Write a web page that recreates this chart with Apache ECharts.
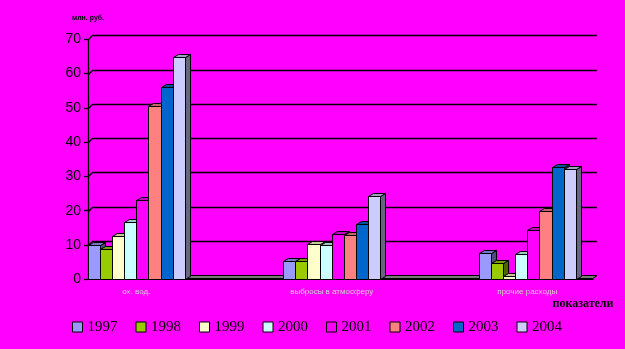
<!DOCTYPE html>
<html>
<head>
<meta charset="utf-8">
<script src="https://cdn.jsdelivr.net/npm/echarts@6/dist/echarts.min.js"></script>
<style>
html,body{margin:0;padding:0;background:#FF00FF;}
#c{width:625px;height:349px;}
</style>
</head>
<body>
<div id="c"></div>
<script>
const categories = ['ох. вод.', 'выбросы в атмосферу', 'прочие расходы'];
const years = ['1997', '1998', '1999', '2000', '2001', '2002', '2003', '2004'];
const v1997 = [10.0, 5.3, 7.8];
const v1998 = [8.7, 5.3, 4.9];
const v1999 = [12.7, 10.2, 0.9];
const v2000 = [16.8, 9.9, 7.3];
const v2001 = [23.0, 13.1, 14.3];
const v2002 = [50.6, 12.8, 19.8];
const v2003 = [56.0, 16.0, 32.7];
const v2004 = [64.7, 24.3, 32.1];
const yTicks = [0, 10, 20, 30, 40, 50, 60, 70];
const yAxisName = 'млн. руб.';
const xAxisName = 'показатели';

const seriesValues = [v1997, v1998, v1999, v2000, v2001, v2002, v2003, v2004];
const colors = ['#9999FF', '#99CC00', '#FFFFCC', '#CCFFFF', '#FF00FF', '#FF8080', '#0066CC', '#CCCCFF'];

function shade(hex, f) {
  const n = parseInt(hex.slice(1), 16);
  const r = Math.round(((n >> 16) & 255) * f);
  const g = Math.round(((n >> 8) & 255) * f);
  const b = Math.round((n & 255) * f);
  return 'rgb(' + r + ',' + g + ',' + b + ')';
}

const BDX = 5, BDY = -3;   // bar depth
const WDX = 4, WDY = -4;   // wall depth

function makeBar(k) {
  const c = colors[k];
  return function (params, api) {
    const ci = api.value(0), v = api.value(1);
    const b = api.coord([ci, 0]);
    const t = api.coord([ci, v]);
    const band = api.size([1, 0])[0];
    const bw = band * 0.4965 / 8;
    const x0 = Math.round(b[0] - 4 * bw + k * bw) + 0.5;
    const x1 = Math.round(b[0] - 4 * bw + (k + 1) * bw) + 0.5;
    const ty = Math.round(t[1]) + 0.5, by = Math.round(b[1]) + 0.5;
    const st = {stroke: '#000', lineWidth: 1};
    return {
      type: 'group',
      children: [
        {type: 'polygon', shape: {points: [[x1, ty], [x1 + BDX, ty + BDY], [x1 + BDX, by + BDY], [x1, by]]},
          style: Object.assign({fill: shade(c, 0.5)}, st)},
        {type: 'polygon', shape: {points: [[x0, ty], [x0 + BDX, ty + BDY], [x1 + BDX, ty + BDY], [x1, ty]]},
          style: Object.assign({fill: shade(c, 0.78)}, st)},
        {type: 'rect', shape: {x: x0, y: ty, width: x1 - x0, height: by - ty},
          style: Object.assign({fill: c}, st)}
      ]
    };
  };
}

function decor(params, api) {
  const cs = params.coordSys;
  const L = cs.x + 0.5, R = cs.x + cs.width;
  const y0 = Math.round(api.coord([0, yTicks[0]])[1]) - 0.5;
  const children = [{
    type: 'polygon',
    shape: {points: [[L, y0], [L + WDX, y0 + WDY + 1], [R + WDX, y0 + WDY + 1], [R, y0]]},
    style: {fill: '#7a7a7a', stroke: '#000', lineWidth: 1}
  }];
  yTicks.slice(1).forEach(function (v) {
    const y = Math.round(api.coord([0, v])[1]) + 0.5;
    children.push({
      type: 'polyline',
      shape: {points: [[L, y], [L + WDX, y + WDY], [R + WDX, y + WDY]]},
      style: {stroke: '#000', lineWidth: 1.3, fill: null}
    });
  });
  return {type: 'group', children: children};
}

const series = [{
  type: 'custom', name: 'decor', xAxisIndex: 0, yAxisIndex: 0, silent: true, z: 1,
  renderItem: decor, data: [[0, 0]]
}];
years.forEach(function (y, k) {
  series.push({
    type: 'custom', name: y, xAxisIndex: 1, yAxisIndex: 1, z: 2 + k,
    itemStyle: {color: colors[k], borderColor: '#000', borderWidth: 1},
    renderItem: makeBar(k),
    data: seriesValues[k].map(function (v, i) { return [i, v]; })
  });
});

const chart = echarts.init(document.getElementById('c'), null, {renderer: 'canvas'});
chart.setOption({
  backgroundColor: '#FF00FF',
  animation: false,
  grid: [
    {left: 88, top: 39.3, width: 505, height: 240},
    {left: 38.5, top: 39.3, width: 601.5, height: 240}
  ],
  xAxis: [
    {type: 'category', gridIndex: 0, data: categories,
      axisLine: {lineStyle: {color: '#000', width: 1}}, axisTick: {show: false}, axisLabel: {show: false},
      name: xAxisName, nameLocation: 'end', nameGap: -10,
      nameTextStyle: {fontFamily: 'Liberation Serif', fontWeight: 'bold', fontSize: 12, color: '#000',
        align: 'center', verticalAlign: 'top', padding: [19, 0, 0, 0]}},
    {type: 'category', gridIndex: 1, data: categories,
      axisLine: {show: false}, axisTick: {show: false},
      axisLabel: {fontSize: 8, color: '#d0d0d0', fontFamily: 'Liberation Sans', margin: 8, interval: 0}}
  ],
  yAxis: [
    {type: 'value', gridIndex: 0, min: yTicks[0], max: yTicks[yTicks.length - 1], interval: 10,
      axisLine: {show: true, lineStyle: {color: '#000', width: 1.3}},
      axisTick: {show: true, length: 4, lineStyle: {color: '#000', width: 1.3}},
      splitLine: {show: false},
      axisLabel: {fontFamily: 'Liberation Sans', fontSize: 14, color: '#000', margin: 7},
      name: yAxisName, nameLocation: 'end', nameGap: 18,
      nameTextStyle: {fontFamily: 'Liberation Sans', fontSize: 7, fontWeight: 'bold', color: '#000', align: 'center'}},
    {type: 'value', gridIndex: 1, min: yTicks[0], max: yTicks[yTicks.length - 1], interval: 10, show: false}
  ],
  legend: {
    data: years, left: 72, top: 319.5, padding: 0, itemWidth: 10, itemHeight: 10, itemGap: 18, icon: 'rect',
    textStyle: {fontFamily: 'Liberation Serif', fontSize: 15, color: '#000'},
    itemStyle: {borderColor: '#000', borderWidth: 1}
  },
  series: series
});
</script>
</body>
</html>
